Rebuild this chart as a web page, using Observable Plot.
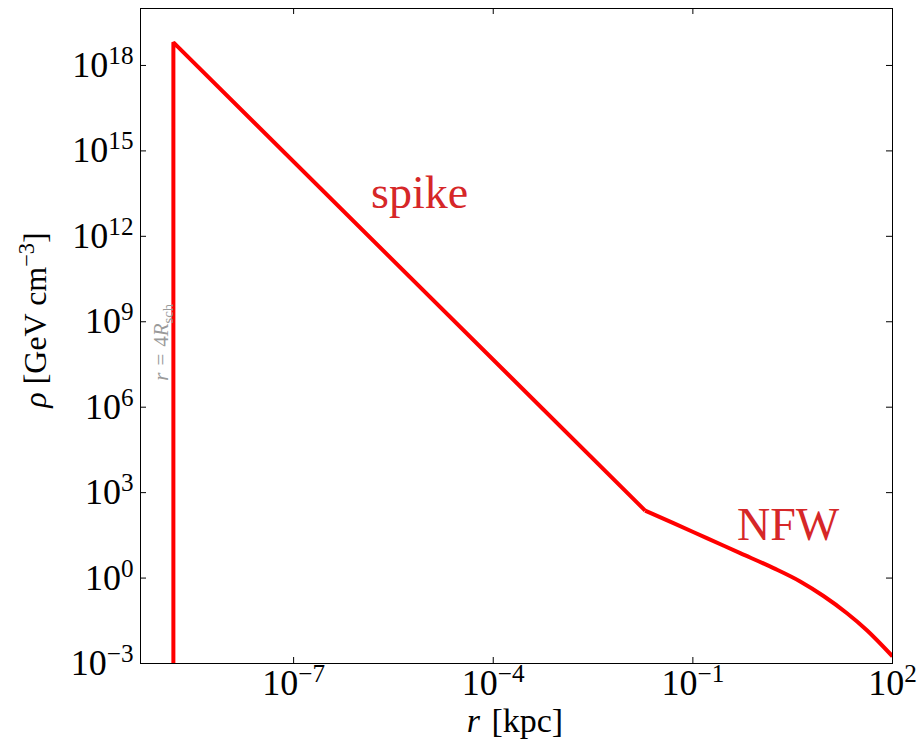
<!DOCTYPE html>
<html><head><meta charset="utf-8">
<script src="https://cdn.jsdelivr.net/npm/d3@7"></script>
<script src="https://cdn.jsdelivr.net/npm/@observablehq/plot@0.6"></script>
<style>body{margin:0;background:#fff} svg{display:block}</style>
</head><body><div id="chart"></div>
<script>
// ---- data ----
const spikeR   = [1.56e-9, 1.56e-9, 1.92e-2];
const spikeRho = [1e-3, 6.5e18, 234];
const nfwR     = [0.0192, 0.0511, 0.162, 0.514, 1.63, 4.10, 9.18, 20.7, 41.2, 100];
const nfwRho   = [234, 84.7, 25.2, 7.52, 2.24, 0.760, 0.234, 0.0583, 0.0148, 0.00179];
const xTicks = [1e-7, 1e-4, 1e-1, 1e2];
const yTicks = [1e-3, 1e0, 1e3, 1e6, 1e9, 1e12, 1e15, 1e18];
const xDomain = [5e-10, 100];
const yDomain = [1e-3, 1e20];
const annText = ["spike", "NFW"];
const annR    = [7.8e-6, 2.7];
const annRho  = [1e13, 22];
const markerText = "r = 4Rsch";
const markerR = 1.56e-9;
const markerRho = 1.9e8;

const spike = spikeR.map((r, i) => ({r, rho: spikeRho[i]}));
const nfw = nfwR.map((r, i) => ({r, rho: nfwRho[i]}));
const ann = annText.map((t, i) => ({t, r: annR[i], rho: annRho[i]}));

const W = 917, H = 741, ML = 140, MR = 25, MT = 8, MB = 78;
const PW = W - ML - MR, PH = H - MT - MB, TL = 6;
const serif = "'Liberation Serif', 'Times New Roman', serif";
const fmt = d => "10^" + String(Math.round(Math.log10(d))).replace("-", "\u2212");

const plot = Plot.plot({
  width: W, height: H,
  marginLeft: ML, marginRight: MR, marginTop: MT, marginBottom: MB,
  style: {fontFamily: serif, fontSize: "36px", background: "white", color: "black", overflow: "visible"},
  x: {type: "log", domain: xDomain},
  y: {type: "log", domain: yDomain},
  marks: [
    Plot.axisX({ticks: xTicks, tickSize: 0, tickPadding: 6, tickFormat: fmt, label: null, fontSize: 36}),
    Plot.axisY({ticks: yTicks, tickSize: 0, tickPadding: 7, tickFormat: fmt, label: null, fontSize: 36}),
    Plot.tickX(xTicks, {x: d => d, insetTop: PH - TL, stroke: "black"}),
    Plot.tickX(xTicks, {x: d => d, insetBottom: PH - TL, stroke: "black"}),
    Plot.tickY(yTicks, {y: d => d, insetRight: PW - TL, stroke: "black"}),
    Plot.tickY(yTicks, {y: d => d, insetLeft: PW - TL, stroke: "black"}),
    Plot.line(spike, {x: "r", y: "rho", stroke: "#ff0000", strokeWidth: 4, strokeLinejoin: "miter", strokeLinecap: "butt", clip: true}),
    Plot.line(nfw, {x: "r", y: "rho", stroke: "#ff0000", strokeWidth: 4, curve: "monotone-x", strokeLinecap: "butt", clip: true}),
    Plot.frame({stroke: "black"}),
    Plot.text(ann, {x: "r", y: "rho", text: "t", fill: "#d62728", fontSize: 46, textAnchor: "middle", lineAnchor: "bottom", fontFamily: serif}),
    Plot.text([markerText], {x: () => markerR, y: () => markerRho, text: d => d, rotate: -90, dx: -5, fill: "#9a9a9a", fontSize: 21, textAnchor: "middle", lineAnchor: "bottom", fontFamily: serif})
  ]
});
document.getElementById("chart").appendChild(plot);

function rich(el, parts, base) {
  const sel = d3.select(el);
  sel.text(null);
  let shift = 0;
  for (const p of parts) {
    const target = p.sup ? -base * 0.36 : p.sub ? base * 0.22 : 0;
    const ts = sel.append("tspan").text(p.t).attr("dy", (target - shift) + "px");
    shift = target;
    if (p.sup || p.sub) ts.attr("font-size", (base * 0.7) + "px");
    if (p.i) ts.attr("font-style", "italic");
  }
}

const svg = d3.select(plot);
svg.selectAll('g[aria-label="x-axis tick label"] text, g[aria-label="y-axis tick label"] text').each(function () {
  const [b, e] = this.textContent.split("^");
  rich(this, [{t: b}, {t: e, sup: true}], 36);
});
svg.selectAll("text").each(function () {
  if (this.textContent === markerText) {
    rich(this, [{t: "r", i: true}, {t: "\u2004=\u20044"}, {t: "R", i: true}, {t: "sch", sub: true}], 21);
  }
});
const yl = svg.append("text").attr("transform", "translate(46,320) rotate(-90)")
  .attr("text-anchor", "middle").attr("font-size", "32px").attr("font-family", serif).attr("fill", "black");
rich(yl.node(), [{t: "\u03C1", i: true}, {t: " [GeV cm"}, {t: "\u22123", sup: true}, {t: "]"}], 32);
const xl = svg.append("text").attr("transform", "translate(515,732)")
  .attr("text-anchor", "middle").attr("font-size", "34px").attr("font-family", serif).attr("fill", "black");
rich(xl.node(), [{t: "r", i: true}, {t: "\u2004[kpc]"}], 34);
</script>
</body></html>
